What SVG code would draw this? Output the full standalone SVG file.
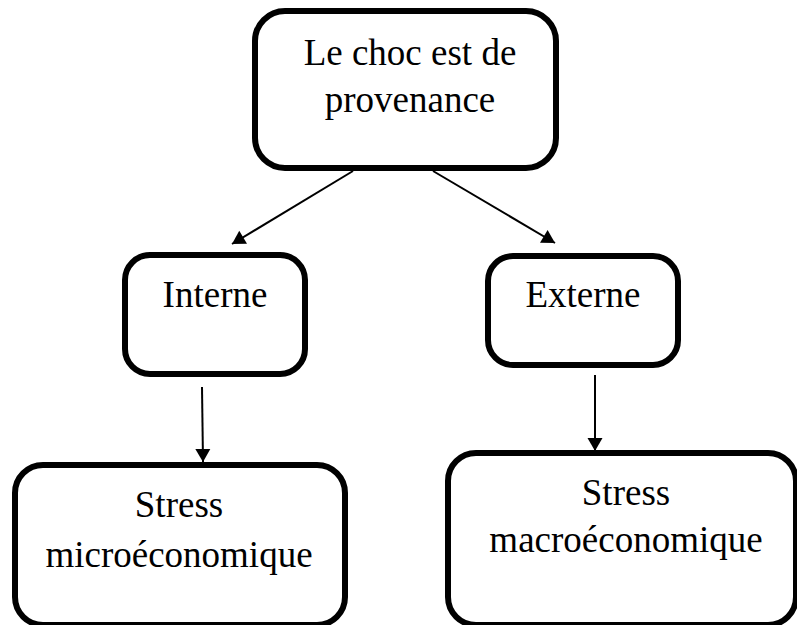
<svg xmlns="http://www.w3.org/2000/svg" width="797" height="625" viewBox="0 0 797 625">
  <style>
    .box { fill: #ffffff; stroke: #000000; stroke-width: 6; }
    .lbl { font-family: "Liberation Serif", "Times New Roman", serif; font-size: 37px; fill: #000000; text-anchor: middle; }
    .conn { stroke: #000000; stroke-width: 2; fill: none; marker-end: url(#arrow); }
  </style>
  <defs>
    <marker id="arrow" markerUnits="userSpaceOnUse" markerWidth="16" markerHeight="16" viewBox="0 0 14 16" refX="13" refY="8" orient="auto">
      <path d="M0,0.5 L13,8 L0,15.5 Z" fill="#000000"/>
    </marker>
  </defs>
  <rect width="797" height="625" fill="#ffffff"/>
  <g id="connectors">
    <line class="conn" x1="353" y1="171" x2="232" y2="244"/>
    <line class="conn" x1="433" y1="171" x2="555" y2="243"/>
    <line class="conn" x1="202" y1="387" x2="203" y2="462"/>
    <line class="conn" x1="595" y1="375" x2="595" y2="451"/>
  </g>
  <g id="node-origin">
    <rect class="box" x="255" y="11" width="301" height="157" rx="30"/>
    <text class="lbl" x="410" y="65">Le choc est de</text>
    <text class="lbl" x="410" y="112">provenance</text>
  </g>
  <g id="node-interne">
    <rect class="box" x="125" y="255" width="180" height="119" rx="25"/>
    <text class="lbl" x="215" y="307">Interne</text>
  </g>
  <g id="node-externe">
    <rect class="box" x="488" y="256" width="190" height="109" rx="25"/>
    <text class="lbl" x="583" y="307">Externe</text>
  </g>
  <g id="node-micro">
    <rect class="box" x="15" y="465" width="330" height="160" rx="28"/>
    <text class="lbl" x="179" y="517">Stress</text>
    <text class="lbl" x="179" y="567">microéconomique</text>
  </g>
  <g id="node-macro">
    <rect class="box" x="448" y="453" width="348" height="172" rx="28"/>
    <text class="lbl" x="626" y="505">Stress</text>
    <text class="lbl" x="626" y="552">macroéconomique</text>
  </g>
</svg>
